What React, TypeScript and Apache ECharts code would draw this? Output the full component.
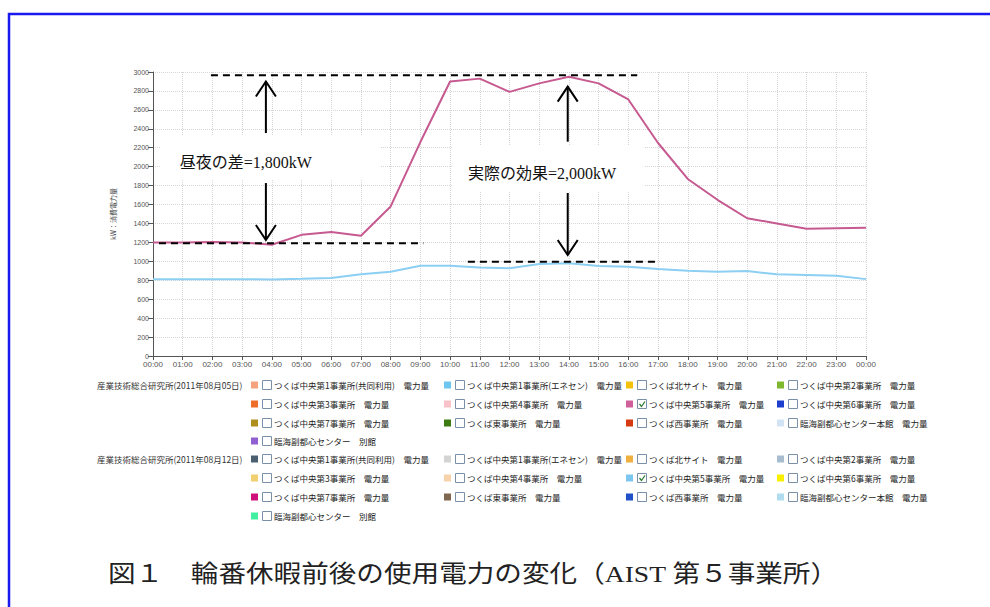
import React, { useEffect, useRef } from "react";
import * as echarts from "echarts";

const hourLabels = [
  "00:00", "01:00", "02:00", "03:00", "04:00", "05:00", "06:00", "07:00", "08:00",
  "09:00", "10:00", "11:00", "12:00", "13:00", "14:00", "15:00", "16:00", "17:00",
  "18:00", "19:00", "20:00", "21:00", "22:00", "23:00", "00:00",
];

// つくば中央第5事業所 電力量 (2011-08-05)
const site5Aug05 = [
  1200, 1200, 1205, 1200, 1175, 1280, 1310, 1270, 1580, 2260, 2900, 2930, 2790,
  2880, 2950, 2880, 2710, 2250, 1870, 1650, 1455, 1400, 1345, 1350, 1355,
];
// つくば中央第5事業所 電力量 (2011-08-12)
const site5Aug12 = [
  810, 810, 812, 812, 808, 815, 825, 863, 890, 954, 954, 936, 926, 972, 979, 950,
  943, 919, 901, 890, 897, 863, 855, 848, 812,
];

const groupLabels = ["産業技術総合研究所(2011年08月05日)", "産業技術総合研究所(2011年08月12日)"];
const legendNames = [
  "つくば中央第1事業所(共同利用)　電力量",
  "つくば中央第1事業所(エネセン)　電力量",
  "つくば北サイト　電力量",
  "つくば中央第2事業所　電力量",
  "つくば中央第3事業所　電力量",
  "つくば中央第4事業所　電力量",
  "つくば中央第5事業所　電力量",
  "つくば中央第6事業所　電力量",
  "つくば中央第7事業所　電力量",
  "つくば東事業所　電力量",
  "つくば西事業所　電力量",
  "臨海副都心センター本館　電力量",
  "臨海副都心センター　別館",
];
const legendColorsAug05 = [
  "#F6A27E", "#6EC6F0", "#F4C20E", "#7DB82F",
  "#EE6E2C", "#F8C2C8", "#D0609A", "#1C3FD0",
  "#B08E1E", "#3C7A12", "#D63A10", "#D2E4F4",
  "#9060D2",
];
const legendColorsAug12 = [
  "#4A6070", "#D4D4D4", "#F0B040", "#A8BCD0",
  "#F0D070", "#F8D2AA", "#7CC6F0", "#F8F000",
  "#D0107A", "#806850", "#2050C8", "#B0DCF0",
  "#40F0A0",
];
const checkedIndex = 6;

const yAxisName = "kW：消費電力量";
const caption = "図１　輪番休暇前後の使用電力の変化（AIST 第５事業所）";
const note1 = "昼夜の差=1,800kW";
const note2 = "実際の効果=2,000kW";

// annotation positions in data units [hour, kW]
const dashLines = [
  { x0: 1.95, x1: 16.3, v: 2965 },
  { x0: 0.2, x1: 9.1, v: 1190 },
  { x0: 10.6, x1: 17.0, v: 995 },
];
const arrows = [
  { x: 3.8, upTip: 2900, upTail: 2355, downTail: 1827, downTip: 1225 },
  { x: 13.96, upTip: 2845, upTail: 2264, downTail: 1722, downTip: 1067 },
];
const noteBoxes = [
  { x0: 0.24, x1: 7.64, v0: 2334, v1: 1859, tx: 0.9, tv: 2040, text: note1 },
  { x0: 10.1, x1: 16.53, v0: 2229, v1: 1732, tx: 10.6, tv: 1930, text: note2 },
];

export default function App() {
  const ref = useRef<HTMLDivElement>(null);
  useEffect(() => {
    const chart = echarts.init(ref.current!, null, { renderer: "svg" });
    const axisLabelColor = "#555";
    chart.setOption({
      animation: false,
      backgroundColor: "#fff",
      grid: { left: 153, top: 72, right: 124, bottom: 251, containLabel: false },
      xAxis: {
        type: "value",
        min: 0,
        max: 24,
        interval: 1,
        axisLine: { show: true, onZero: false, lineStyle: { color: "#555", width: 1 } },
        axisTick: { show: true, length: 4, lineStyle: { color: "#555" } },
        axisLabel: {
          color: axisLabelColor,
          fontSize: 8,
          margin: 4,
          fontFamily: "Arial, 'Liberation Sans', sans-serif",
          formatter: (v: number) => hourLabels[Math.round(v)] ?? "",
        },
        splitLine: { show: true, lineStyle: { color: "#d6d6d6", type: "dotted", width: 1 } },
      },
      yAxis: {
        type: "value",
        min: 0,
        max: 3000,
        interval: 200,
        name: yAxisName,
        nameLocation: "middle",
        nameGap: 37,
        nameTextStyle: { fontSize: 7, color: "#444", fontFamily: "'Noto Sans CJK JP', sans-serif" },
        axisLine: { show: true, lineStyle: { color: "#555", width: 1 } },
        axisTick: { show: true, length: 5, lineStyle: { color: "#555" } },
        axisLabel: {
          color: axisLabelColor,
          fontSize: 7,
          margin: 4,
          fontFamily: "Arial, 'Liberation Sans', sans-serif",
          formatter: (v: number) => String(v),
        },
        splitLine: { show: true, lineStyle: { color: "#d6d6d6", type: "dotted", width: 1 } },
      },
      series: [
        {
          type: "line",
          name: "2011-08-05",
          data: site5Aug05.map((v, i) => [i, v]),
          showSymbol: false,
          lineStyle: { color: "#C65A90", width: 2 },
          itemStyle: { color: "#C65A90" },
          z: 3,
        },
        {
          type: "line",
          name: "2011-08-12",
          data: site5Aug12.map((v, i) => [i, v]),
          showSymbol: false,
          lineStyle: { color: "#8CCFF2", width: 2 },
          itemStyle: { color: "#8CCFF2" },
          z: 3,
        },
      ],
    });

    const P = (x: number, v: number) =>
      chart.convertToPixel({ xAxisIndex: 0, yAxisIndex: 0 }, [x, v]) as number[];

    const els: any[] = [];
    // outer blue frame
    els.push({
      type: "rect",
      shape: { x: 9, y: 14, width: 1100, height: 700 },
      style: { fill: "none", stroke: "#1A1AF0", lineWidth: 2.5 },
      z: 10,
    });

    // note boxes (white)
    noteBoxes.forEach((b) => {
      const a = P(b.x0, b.v0);
      const c = P(b.x1, b.v1);
      els.push({
        type: "rect",
        shape: { x: a[0], y: a[1], width: c[0] - a[0], height: c[1] - a[1] },
        style: { fill: "#fff" },
        z: 20,
      });
      const t = P(b.tx, b.tv);
      els.push({
        type: "text",
        x: t[0],
        y: t[1],
        style: {
          text: b.text,
          fill: "#111",
          fontSize: 16,
          fontFamily: "'Liberation Serif', 'Noto Sans CJK JP', serif",
          verticalAlign: "middle",
          align: "left",
        },
        z: 21,
      });
    });

    // dashed reference lines
    dashLines.forEach((d) => {
      const a = P(d.x0, d.v);
      const b = P(d.x1, d.v);
      els.push({
        type: "line",
        shape: { x1: a[0], y1: a[1], x2: b[0], y2: b[1] },
        style: { stroke: "#000", lineWidth: 2, lineDash: [7, 5] },
        z: 22,
      });
    });

    // arrows
    arrows.forEach((ar) => {
      const ut = P(ar.x, ar.upTip);
      const ul = P(ar.x, ar.upTail);
      const dl = P(ar.x, ar.downTail);
      const dt = P(ar.x, ar.downTip);
      const st = { stroke: "#000", lineWidth: 2, fill: "none" };
      els.push({ type: "line", shape: { x1: ul[0], y1: ul[1], x2: ut[0], y2: ut[1] }, style: st, z: 22 });
      els.push({
        type: "polyline",
        shape: { points: [[ut[0] - 10, ut[1] + 15], [ut[0], ut[1]], [ut[0] + 10, ut[1] + 15]] },
        style: st,
        z: 22,
      });
      els.push({ type: "line", shape: { x1: dl[0], y1: dl[1], x2: dt[0], y2: dt[1] }, style: st, z: 22 });
      els.push({
        type: "polyline",
        shape: { points: [[dt[0] - 10, dt[1] - 15], [dt[0], dt[1]], [dt[0] + 10, dt[1] - 15]] },
        style: st,
        z: 22,
      });
    });

    // custom legend
    const colX = [251, 444, 626, 777];
    const groupRows = [
      [385, 404, 423, 441],
      [459, 478, 497, 516],
    ];
    const colorSets = [legendColorsAug05, legendColorsAug12];
    const legendFont = "'Noto Sans CJK JP', sans-serif";
    groupLabels.forEach((label, g) => {
      els.push({
        type: "text",
        x: 97,
        y: groupRows[g][0],
        style: { text: label, fill: "#333", fontSize: 8.5, fontFamily: legendFont, verticalAlign: "middle" },
        z: 5,
      });
      legendNames.forEach((name, i) => {
        const col = i % 4;
        const row = Math.floor(i / 4);
        const x = colX[col];
        const y = groupRows[g][row];
        els.push({
          type: "rect",
          shape: { x: x, y: y - 3.5, width: 7, height: 7 },
          style: { fill: colorSets[g][i] },
          z: 5,
        });
        els.push({
          type: "rect",
          shape: { x: x + 11.5, y: y - 4.5, width: 9, height: 9 },
          style: { fill: "#fff", stroke: "#7A8FA8", lineWidth: 1 },
          z: 5,
        });
        if (i === checkedIndex) {
          els.push({
            type: "polyline",
            shape: { points: [[x + 13.5, y], [x + 15.5, y + 2.5], [x + 19, y - 2.5]] },
            style: { stroke: "#2E7D32", lineWidth: 1.3, fill: "none" },
            z: 6,
          });
        }
        els.push({
          type: "text",
          x: x + 23,
          y: y,
          style: { text: name, fill: "#222", fontSize: 8.5, fontFamily: legendFont, verticalAlign: "middle" },
          z: 5,
        });
      });
    });

    // caption
    els.push({
      type: "text",
      x: 108,
      y: 574,
      scaleX: 1.15,
      style: {
        text: caption,
        fill: "#222",
        fontSize: 24,
        fontFamily: "'Liberation Serif', 'Noto Sans CJK JP', serif",
        verticalAlign: "middle",
      },
      z: 5,
    });

    chart.setOption({ graphic: { elements: els } });
    return () => chart.dispose();
  }, []);
  return (
    <div
      ref={ref}
      style={{ position: "fixed", left: 0, top: 0, width: 990, height: 607, background: "#fff" }}
    />
  );
}
